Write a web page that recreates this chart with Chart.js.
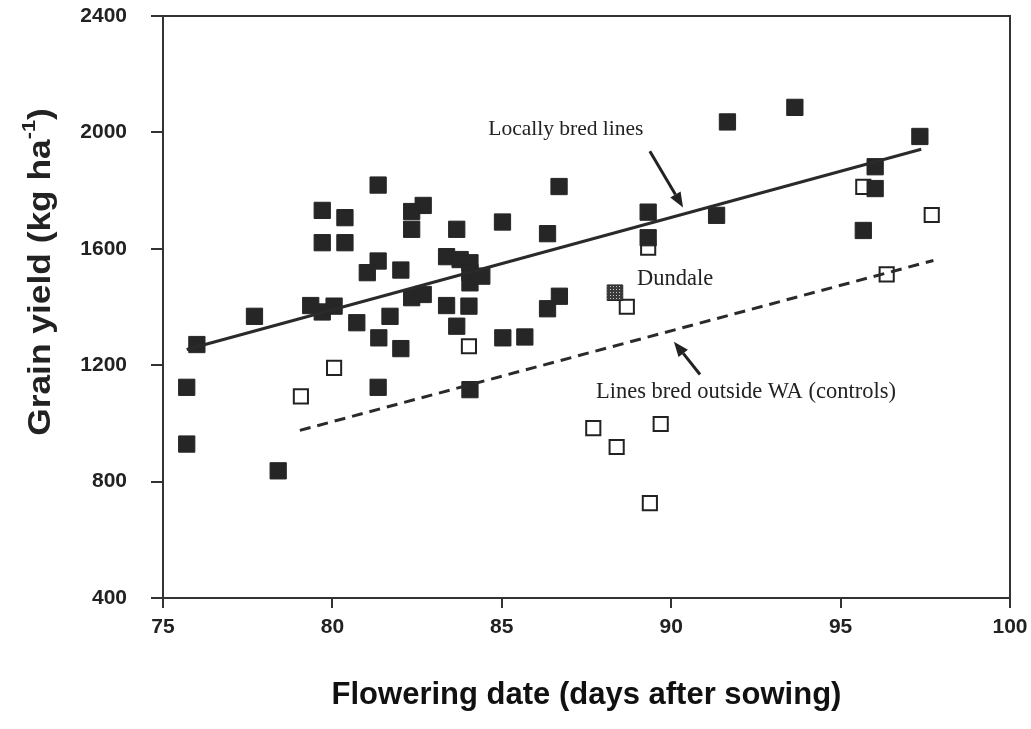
<!DOCTYPE html>
<html>
<head>
<meta charset="utf-8">
<script src="https://cdn.jsdelivr.net/npm/chart.js@4.4.1/dist/chart.umd.min.js"></script>
<style>
  html,body{margin:0;padding:0;background:#fff;}
  #wrap{width:1031px;height:729px;}
</style>
</head>
<body>
<div id="wrap"><canvas id="yieldChart" width="1031" height="729"></canvas></div>
<script>
// ------------------ DATA ------------------
// locally bred lines (filled squares): flowering date, grain yield
const localDays = [75.7,75.7,76.0,77.7,78.4,79.36,79.7,80.05,79.7,79.7,80.37,80.37,81.35,81.35,81.03,82.02,80.72,81.7,81.37,82.02,81.35,
  82.68,82.34,82.34,83.67,85.02,86.35,86.69,83.37,83.77,84.06,84.06,84.06,84.41,82.34,82.68,83.37,84.03,83.67,85.03,85.68,86.35,86.7,84.06,
  89.32,89.32,91.34,91.66,93.65,97.34,96.02,96.02,95.67];
const localYield = [1124,929,1271,1368,837,1405,1383,1403,1732,1621,1707,1621,1819,1558,1518,1527,1346,1368,1294,1257,1124,
  1749,1728,1667,1667,1692,1652,1814,1573,1563,1552,1518,1483,1506,1432,1443,1405,1403,1334,1294,1297,1394,1437,1116,
  1726,1638,1715,2036,2086,1986,1882,1807,1663];

// lines bred outside WA (open squares)
const controlDays = [79.07,80.05,84.03,88.69,89.32,87.7,88.39,89.69,89.37,95.67,97.69,96.36];
const controlYield = [1093,1191,1265,1401,1604,984,919,998,726,1813,1716,1512];

// Dundale
const dundaleDays = [88.34];
const dundaleYield = [1449];

// fitted lines (end points)
const localFitDays = [75.7, 97.38];
const localFitYield = [1254, 1942];
const controlFitDays = [79.04, 97.74];
const controlFitYield = [976, 1560];

// axis ticks
const xTicks = [75,80,85,90,95,100];
const yTicks = [400,800,1200,1600,2000,2400];

// annotations, in data units
const labels = [
  {text:"Locally bred lines", x:84.6, y:2011},
  {text:"Dundale", x:88.99, y:1495},
  {text:"Lines bred outside WA (controls)", x:87.78, y:1109}
];
const arrows = [
  {from:[89.37,1935], to:[90.35,1742]},
  {from:[90.85,1168], to:[90.08,1281]}
];

const toPts = (xs, ys) => xs.map((x,i)=>({x:x, y:ys[i]}));

// stipple fill for Dundale
function stipple(){
  const c = document.createElement("canvas"); c.width = 3; c.height = 3;
  const g = c.getContext("2d");
  g.fillStyle = "#3a3a3a"; g.fillRect(0,0,3,3);
  g.fillStyle = "#c8c8c8"; g.fillRect(1,1,1,1);
  return g.createPattern(c, "repeat");
}

// ------------------ PLUGINS ------------------
const frame = {
  id:"frame",
  afterDraw(chart){
    const {ctx, chartArea:a} = chart;
    ctx.save();
    ctx.strokeStyle = "#333"; ctx.lineWidth = 2;
    ctx.beginPath();
    ctx.moveTo(a.left, a.top); ctx.lineTo(a.right, a.top); ctx.lineTo(a.right, a.bottom);
    ctx.stroke();
    ctx.restore();
  }
};

const notes = {
  id:"notes",
  afterDatasetsDraw(chart){
    const {ctx, scales:{x, y}} = chart;
    ctx.save();
    ctx.fillStyle = "#222";
    ctx.textBaseline = "middle";
    labels.forEach((l,i)=>{
      ctx.font = (i === 0 ? "21.5px" : "22.5px") + " 'Liberation Serif', 'Times New Roman', serif";
      ctx.fillText(l.text, x.getPixelForValue(l.x), y.getPixelForValue(l.y));
    });
    ctx.strokeStyle = "#222"; ctx.lineWidth = 3;
    arrows.forEach(a=>{
      const x0 = x.getPixelForValue(a.from[0]), y0 = y.getPixelForValue(a.from[1]);
      const x1 = x.getPixelForValue(a.to[0]), y1 = y.getPixelForValue(a.to[1]);
      const ang = Math.atan2(y1-y0, x1-x0), L = 15, W = 6;
      const bx = x1 - L*Math.cos(ang), by = y1 - L*Math.sin(ang);
      ctx.beginPath(); ctx.moveTo(x0,y0); ctx.lineTo(bx,by); ctx.stroke();
      ctx.beginPath();
      ctx.moveTo(x1,y1);
      ctx.lineTo(bx + W*Math.sin(ang), by - W*Math.cos(ang));
      ctx.lineTo(bx - W*Math.sin(ang), by + W*Math.cos(ang));
      ctx.closePath(); ctx.fill();
    });
    ctx.restore();
  }
};

// y title with superscript
const yTitle = {
  id:"yTitle",
  afterDraw(chart){
    const ctx = chart.ctx;
    const main = "bold 31px 'Liberation Sans', Arial, sans-serif";
    const sup = "bold 19px 'Liberation Sans', Arial, sans-serif";
    const a = "Grain yield (kg ha", s = "-1", b = ")";
    ctx.save();
    ctx.font = main; const wa = ctx.measureText(a).width, wb = ctx.measureText(b).width;
    ctx.font = sup; const ws = ctx.measureText(s).width;
    const total = wa + ws + wb;
    ctx.translate(41, 272); ctx.rotate(-Math.PI/2);
    ctx.scale(1.14, 1);
    ctx.fillStyle = "#222"; ctx.textBaseline = "middle";
    let px = -total/2;
    ctx.font = main; ctx.fillText(a, px, 0); px += wa;
    ctx.font = sup; ctx.fillText(s, px, -11); px += ws;
    ctx.font = main; ctx.fillText(b, px, 0);
    ctx.restore();
  }
};

// ------------------ CHART ------------------
const tickFont = {family:"'Liberation Sans', Arial, sans-serif", size:21, weight:"bold"};

new Chart(document.getElementById("yieldChart"), {
  type:"scatter",
  data:{
    datasets:[
      {type:"line", data:toPts(localFitDays, localFitYield), borderColor:"#2a2a2a", borderWidth:3, pointRadius:0, fill:false, order:0},
      {type:"line", data:toPts(controlFitDays, controlFitYield), borderColor:"#2a2a2a", borderWidth:3, borderDash:[11,7], pointRadius:0, fill:false, order:0},
      {data:toPts(localDays, localYield), pointStyle:"rect", pointRadius:11.5, backgroundColor:"#262626", borderColor:"#262626", borderWidth:1, order:1},
      {data:toPts(dundaleDays, dundaleYield), pointStyle:"rect", pointRadius:11, backgroundColor:stipple(), borderColor:"#222", borderWidth:1, order:2},
      {data:toPts(controlDays, controlYield), pointStyle:"rect", pointRadius:10, backgroundColor:"#fff", borderColor:"#222", borderWidth:2, order:3}
    ]
  },
  options:{
    responsive:false, animation:false, devicePixelRatio:1,
    layout:{padding:{top:16, right:21, left:0, bottom:0}},
    plugins:{legend:{display:false}, tooltip:{enabled:false}},
    scales:{
      x:{
        type:"linear", min:75, max:100,
        afterBuildTicks: s => { s.ticks = xTicks.map(v=>({value:v})); },
        afterFit: s => { s.height = 131; s.paddingLeft = 0; s.paddingRight = 0; },
        ticks:{font:tickFont, color:"#222", padding:7, maxRotation:0, callback:v=>String(v)},
        grid:{drawOnChartArea:false, color:"#333", lineWidth:2, tickLength:10},
        border:{color:"#333", width:2},
        title:{display:true, text:"Flowering date (days after sowing)", color:"#111",
          font:{family:"'Liberation Sans', Arial, sans-serif", size:31, weight:"bold"}, padding:{top:0, bottom:15}}
      },
      y:{
        type:"linear", min:400, max:2400,
        afterBuildTicks: s => { s.ticks = yTicks.map(v=>({value:v})); },
        afterFit: s => { s.width = 163; s.paddingTop = 0; s.paddingBottom = 0; },
        ticks:{font:tickFont, color:"#222", padding:24, callback:v=>String(v)},
        grid:{drawOnChartArea:false, color:"#333", lineWidth:2, tickLength:12},
        border:{color:"#333", width:2}
      }
    }
  },
  plugins:[frame, notes, yTitle]
});
</script>
</body>
</html>
